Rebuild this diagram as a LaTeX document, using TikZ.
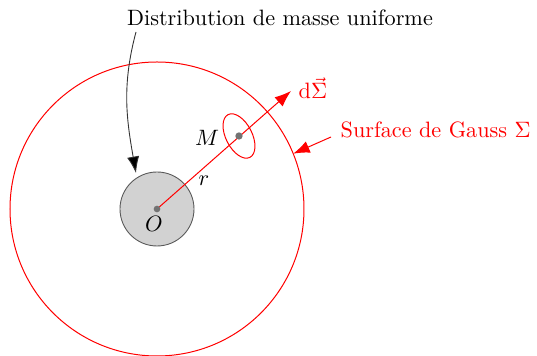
\documentclass[tikz,border=0pt]{standalone}
\usetikzlibrary{arrows.meta}
\begin{document}
\begin{tikzpicture}[x=0.45pt,y=0.45pt,
  bigtip/.style={-{Latex[length=7.4pt,width=5.5pt]}},
  dotm/.style={fill=gray!90!black,draw=none},
  lab/.style={inner sep=1pt}]
\useasboundingbox (0,0) rectangle (537,356);
\coordinate (O) at (157,147);
\coordinate (M) at (239,220);
\coordinate (tip) at (291,265);
% Gauss surface
\draw[red,line width=0.45pt] (O) circle[radius=66.15pt];
% mass distribution
\draw[gray!70!black,fill=gray!35,line width=0.4pt] (O) circle[radius=16.65pt];
% radius vector and dSigma
\draw[red,line width=0.45pt,bigtip] (O) -- (tip);
\draw[red,line width=0.45pt] (M) ellipse[x radius=10.8pt,y radius=5.9pt,rotate=117];
\fill[dotm] (O) circle[radius=1.5pt];
\fill[dotm] (M) circle[radius=1.65pt];
\node[lab,text=red,anchor=west] (dS) at (296,268) {$\mathrm{d}\vec{\Sigma}$};
\node[lab] (Ml) at (207,218) {$M$};
\node[lab] (rl) at (204,175) {$r$};
\node[lab] (Ol) at (154,132) {$O$};
% Gauss label and arrow
\node[lab,text=red,anchor=west] (gs) at (338,226) {Surface de Gauss $\Sigma$};
\coordinate (sa) at (331,219);
\path (O) ++(22.1:66.15pt) coordinate (st);
\draw[red,line width=0.45pt,bigtip] (sa) -- (st);
% distribution label and arrow
\node[lab] (dist) at (280,338) {Distribution de masse uniforme};
\coordinate (ds) at (136,324);
\coordinate (de) at (136,183);
\draw[black!80,line width=0.4pt,-{Latex[length=7.4pt,width=5.5pt,fill=black]}] (ds) to[out=255,in=100] (de);
\end{tikzpicture}
\end{document}
